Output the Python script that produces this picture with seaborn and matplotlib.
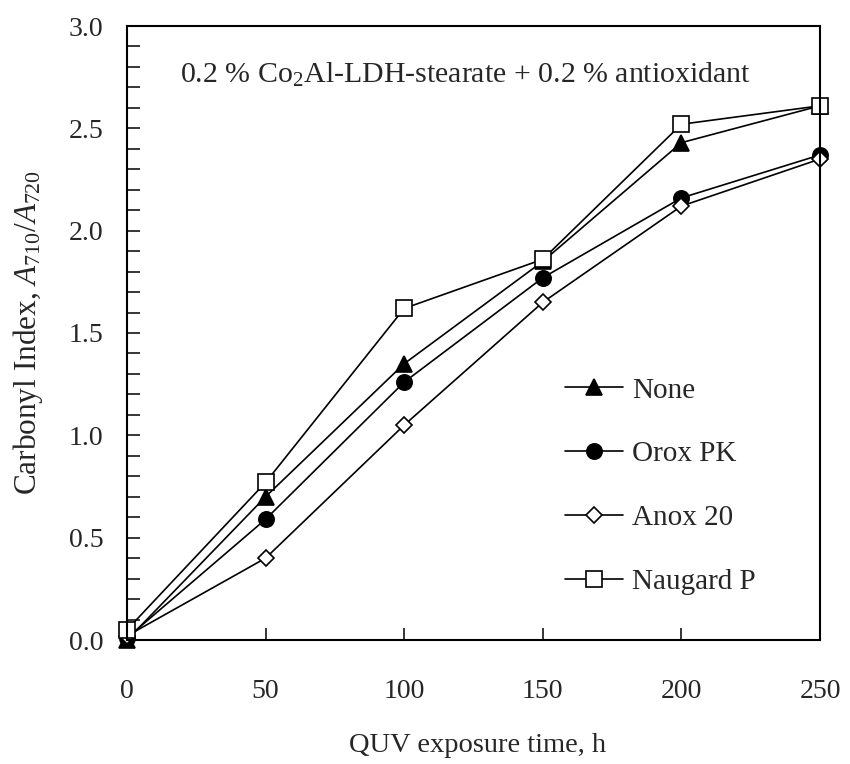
import numpy as np
import pandas as pd
import matplotlib
matplotlib.use("Agg")
import matplotlib.pyplot as plt
import seaborn as sns
from matplotlib.ticker import MultipleLocator

# ---- data ----
time_h = [0, 50, 100, 150, 200, 250]
none_vals = [0.00, 0.70, 1.35, 1.85, 2.43, 2.61]
orox_vals = [0.01, 0.59, 1.26, 1.77, 2.16, 2.37]
anox_vals = [0.02, 0.40, 1.05, 1.65, 2.12, 2.35]
naugard_vals = [0.05, 0.77, 1.62, 1.86, 2.52, 2.61]
series_names = ["None", "Orox PK", "Anox 20", "Naugard P"]
x_ticks = [0, 50, 100, 150, 200, 250]
y_ticks = [0.0, 0.5, 1.0, 1.5, 2.0, 2.5, 3.0]

sns.set_style("ticks")
plt.rcParams["font.family"] = ["Liberation Serif", "DejaVu Serif"]
plt.rcParams["mathtext.fontset"] = "custom"
plt.rcParams["mathtext.rm"] = "Liberation Serif"
plt.rcParams["mathtext.it"] = "Liberation Serif:italic"

df = pd.DataFrame({
    "time": time_h * 4,
    "ci": none_vals + orox_vals + anox_vals + naugard_vals,
    "series": sum([[n] * len(time_h) for n in series_names], []),
})

styles = {
    "None": dict(marker="^", ms=12, mfc="black"),
    "Orox PK": dict(marker="o", ms=11, mfc="black"),
    "Anox 20": dict(marker="D", ms=7.8, mfc="white"),
    "Naugard P": dict(marker="s", ms=11, mfc="white"),
}

fig = plt.figure(figsize=(8.5, 7.64), dpi=100)
ax = fig.add_axes([127 / 850, 1 - 640 / 764, 693 / 850, 614 / 764])

for name in series_names:
    st = styles[name]
    sub = df[df["series"] == name]
    sns.lineplot(data=sub, x="time", y="ci", ax=ax, color="black", lw=1.2,
                 marker=st["marker"], markersize=st["ms"],
                 markerfacecolor=st["mfc"], markeredgecolor="black",
                 markeredgewidth=1.2, label=name, clip_on=False,
                 estimator=None, sort=False)

ax.set_xlim(0, 250)
ax.set_ylim(0, 3.0)
ax.set_xticks(x_ticks)
ax.set_yticks(y_ticks)
ax.set_xticklabels([f"{v:d}" for v in x_ticks])
ax.set_yticklabels([f"{v:.1f}" for v in y_ticks])
ax.yaxis.set_minor_locator(MultipleLocator(0.1))

ax.tick_params(axis="x", which="major", direction="in", length=9, width=1.3,
               labelsize=20, pad=28, top=False)
ax.tick_params(axis="y", which="both", direction="in", length=9, width=1.3,
               labelsize=20, pad=17, right=False)
for s in ax.spines.values():
    s.set_linewidth(1.5)
    s.set_color("black")

ax.set_xlabel("QUV exposure time, h", fontsize=20.5)
ax.set_ylabel(r"Carbonyl Index, $\mathit{A}_{\mathregular{710}}\mathregular{/}\mathit{A}_{\mathregular{720}}$",
              fontsize=22.5)
ax.xaxis.set_label_coords(0.506, -0.152)
ax.yaxis.label.set_verticalalignment("center")
ax.yaxis.set_label_coords(-0.143, 0.5)

ax.text(122, 2.76, r"0.2 % Co$\mathregular{_2}$Al-LDH-stearate + 0.2 % antioxidant",
        ha="center", va="center", fontsize=21.5)

leg = ax.legend(loc="upper left", bbox_to_anchor=(0.632, 0.428), frameon=False,
                fontsize=21, handlelength=2.0, handletextpad=0.3,
                labelspacing=1.28, borderpad=0, borderaxespad=0)

fig.savefig("out.png", dpi=100, facecolor="white")
